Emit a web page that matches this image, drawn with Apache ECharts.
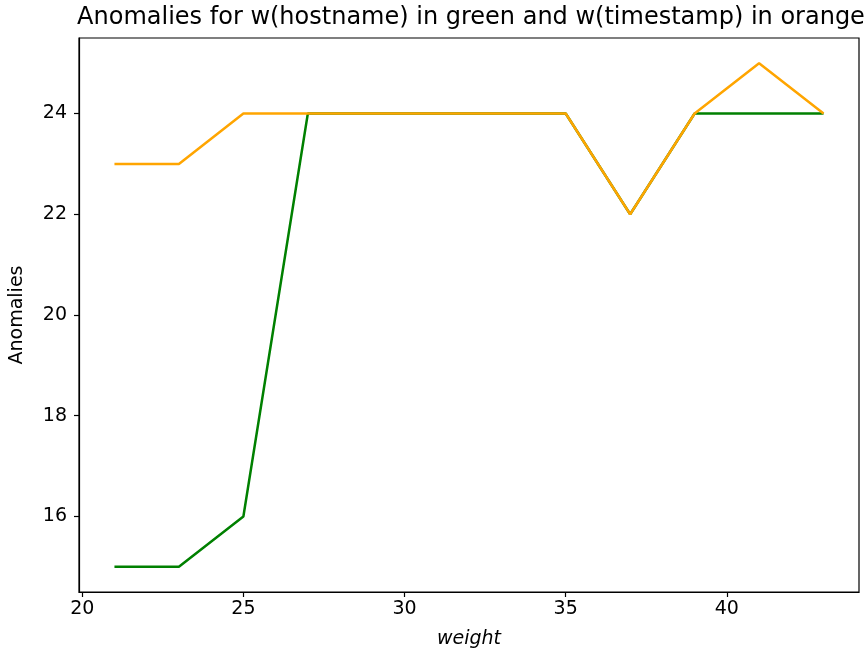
<!DOCTYPE html>
<html><head><meta charset="utf-8">
<script src="https://cdn.jsdelivr.net/npm/echarts@6/dist/echarts.min.js"></script>
<style>html,body{margin:0;padding:0;background:#fff}#c{width:868px;height:657px}</style>
</head><body><div id="c"></div>
<script>
const weights = [21, 23, 25, 27, 29, 31, 33, 35, 37, 39, 41, 43];
const hostnameAnomalies = [15, 15, 16, 24, 24, 24, 24, 24, 22, 24, 24, 24];
const timestampAnomalies = [23, 23, 24, 24, 24, 24, 24, 24, 22, 24, 25, 24];
const xTicks = [20, 25, 30, 35, 40];
const yTicks = [16, 18, 20, 22, 24];

const font = 'DejaVu Sans';
const chart = echarts.init(document.getElementById('c'), null, {renderer: 'canvas'});
chart.setOption({
  animation: false,
  title: {
    text: 'Anomalies for w(hostname) in green and w(timestamp) in orange',
    left: 466, textAlign: 'center', top: 1,
    textStyle: {fontFamily: font, fontSize: 24, fontWeight: 'normal', color: '#000'}
  },
  grid: {left: 78, right: 9, top: 38, bottom: 65, show: true, borderColor: '#000', borderWidth: 1.2, backgroundColor: 'transparent'},
  xAxis: {
    type: 'value', min: 19.9, max: 44.1,
    name: 'weight', nameLocation: 'middle', nameGap: 38,
    nameTextStyle: {fontFamily: font, fontSize: 19, fontStyle: 'italic', color: '#000'},
    axisLine: {show: true, onZero: false, lineStyle: {color: '#000', width: 1.2}},
    axisTick: {show: true, length: 5, customValues: xTicks, lineStyle: {color: '#000', width: 1.2}},
    axisLabel: {customValues: xTicks, margin: 8, fontFamily: font, fontSize: 19, color: '#000'},
    splitLine: {show: false}
  },
  yAxis: {
    type: 'value', min: 14.5, max: 25.5,
    name: 'Anomalies', nameLocation: 'middle', nameGap: 52,
    nameTextStyle: {fontFamily: font, fontSize: 19, color: '#000'},
    axisLine: {show: true, onZero: false, lineStyle: {color: '#000', width: 1.2}},
    axisTick: {show: true, length: 5, customValues: yTicks, lineStyle: {color: '#000', width: 1.2}},
    axisLabel: {customValues: yTicks, margin: 12, fontFamily: font, fontSize: 19, color: '#000'},
    splitLine: {show: false}
  },
  series: [
    {type: 'line', data: weights.map((w, i) => [w, hostnameAnomalies[i]]), showSymbol: false, symbol: 'none',
     lineStyle: {color: '#008000', width: 2.5}, z: 2},
    {type: 'line', data: weights.map((w, i) => [w, timestampAnomalies[i]]), showSymbol: false, symbol: 'none',
     lineStyle: {color: '#FFA500', width: 2.5}, z: 3}
  ]
});
</script></body></html>
